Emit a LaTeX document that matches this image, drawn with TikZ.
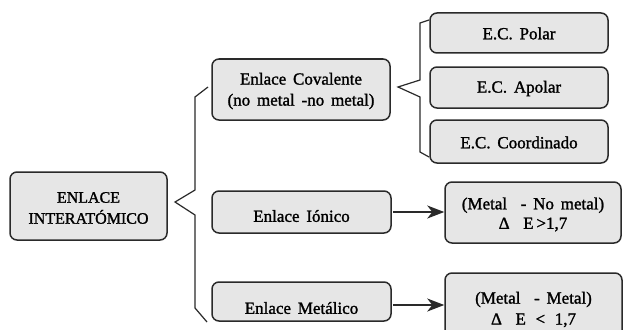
\documentclass[tikz,border=0pt]{standalone}
\usepackage{fontspec}
\setmainfont{Liberation Serif}[WordSpace=1.5]
\newfontfamily\boxfont{Liberation Serif}[FakeBold=1.4,WordSpace=1.6]
\usetikzlibrary{arrows.meta}
\definecolor{boxfill}{HTML}{E6E6E6}
\definecolor{boxline}{HTML}{2A2A2A}
\tikzset{
  bx/.style={draw=boxline, fill=boxfill, line width=1.5pt, rounded corners=7pt, inner sep=0pt},
  txt/.style={align=center, inner sep=0pt, text=black,
    font=\boxfont\fontsize{17}{21}\selectfont},
  brc/.style={draw=boxline, line width=1.2pt},
  arr/.style={draw=boxline, line width=1.5pt, -{Stealth[length=17pt,width=13pt,inset=5pt]}}
}
\begin{document}
\begin{tikzpicture}[x=1pt,y=-1pt]
\clip (0,0) rectangle (623,329);
\fill[white] (0,0) rectangle (623,329);
% main box
\node[bx, minimum width=157pt, minimum height=68pt] (main) at (88.5,206) {};
\node[txt, font=\boxfont\fontsize{16}{21}\selectfont] (maint) at (88.5,208) {ENLACE\\INTERATÓMICO};
% level 2
\node[bx, minimum width=178pt, minimum height=61pt] (cov) at (301,89.5) {};
\node[txt] (covt) at (301,91) {Enlace Covalente\\(no metal -no metal)};
\node[bx, minimum width=179pt, minimum height=42pt] (ion) at (301.5,212) {};
\node[txt] (iont) at (301.5,216) {Enlace Iónico};
\node[bx, minimum width=179pt, minimum height=39pt] (met) at (301.5,301.5) {};
\node[txt] (mett) at (301.5,308) {Enlace Metálico};
% level 3
\node[bx, minimum width=178pt, minimum height=40pt] (pol) at (519,33) {};
\node[txt] (polt) at (519,33.5) {E.C. Polar};
\node[bx, minimum width=178pt, minimum height=41pt] (apo) at (519,87.5) {};
\node[txt] (apot) at (519,88.5) {E.C. Apolar};
\node[bx, minimum width=178pt, minimum height=43pt] (coo) at (519,141.5) {};
\node[txt] (coot) at (519,142.5) {E.C. Coordinado};
\node[bx, minimum width=176pt, minimum height=61pt] (nom) at (533,212.5) {};
\node[txt, font=\boxfont\fontsize{17}{19.5}\selectfont] (nomt) at (533,214.5) {(Metal\ \ - No metal)\\Δ\ \ E\,>1,7};
\node[bx, minimum width=177pt, minimum height=72pt] (mm) at (533.5,309) {};
\node[txt, font=\boxfont\fontsize{17}{21}\selectfont] (mmt) at (533.5,309.5) {(Metal\ \ - Metal)\\Δ\ \ E \,<\, 1,7};
% brace 1
\coordinate (b1t) at (208,87);
\coordinate (b1b) at (207,322);
\coordinate (b1tip) at (175,202);
\draw[brc] (b1t) -- (195,97) -- (195,190) -- (b1tip) -- (195,215) -- (195,308) -- (b1b);
% brace 2
\coordinate (b2t) at (429,20);
\coordinate (b2b) at (429,157);
\coordinate (b2tip) at (398,87);
\draw[brc] (b2t) -- (420,23) -- (420,80) -- (b2tip) -- (420,97) -- (420,152) -- (b2b);
% arrows
\coordinate (a1) at (393,212);
\coordinate (a2) at (393,305);
\draw[arr] (a1) -- (nom.west |- a1);
\draw[arr] (a2) -- (nom.west |- a2);
\end{tikzpicture}
\end{document}
